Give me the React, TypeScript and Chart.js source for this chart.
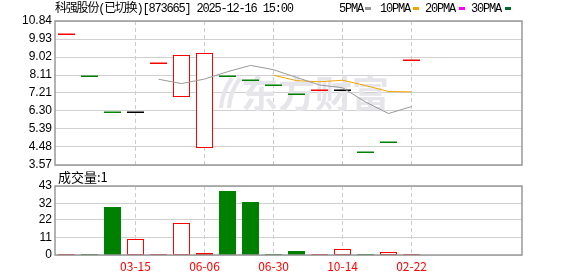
import React, { useEffect, useRef } from 'react';
import { Chart, registerables } from 'chart.js';

Chart.register(...registerables);

const TITLE = '科强股份(已切换)[873665] 2025-12-16 15:00';
const VOLUME_LABEL = '成交量:1';
const WATERMARK = '东方财富';

const legendNames = ['5PMA', '10PMA', '20PMA', '30PMA'];
const legendColors = ['#999999', '#f4a300', '#ff00ff', '#006b2a'];

const openPrices = [10.2, 8.06, 6.25, 6.25, 8.72, 7.07, 4.47, 8.06, 7.87, 7.61, 7.16, 7.36, 7.36, 4.24, 4.76, 8.88];
const closePrices = [10.2, 8.06, 6.25, 6.25, 8.72, 9.12, 9.23, 8.06, 7.87, 7.61, 7.16, 7.36, 7.36, 4.24, 4.74, 8.88];
const volumes = [0.2, 0.4, 30, 10, 0.3, 20, 1.5, 40, 33, 0.4, 2.5, 0.3, 3.7, 0.3, 1.7, 0.3];
const ma5 = [null, null, null, null, 7.9, 7.68, 7.91, 8.28, 8.6, 8.38, 7.99, 7.61, 7.47, 6.75, 6.17, 6.52];
const ma10 = [null, null, null, null, null, null, null, null, null, 8.1, 7.83, 7.77, 7.85, 7.58, 7.28, 7.26];

const xTickIndex = [3, 6, 9, 12, 15];
const xTickLabels = ['03-15', '06-06', '06-30', '10-14', '02-22'];
const priceTicks = [3.57, 4.48, 5.39, 6.3, 7.21, 8.11, 9.02, 9.93, 10.84];
const priceTickLabels = ['3.57', '4.48', '5.39', '6.30', '7.21', '8.11', '9.02', '9.93', '10.84'];
const volumeTicks = [0, 11, 22, 32, 43];
const volumeTickLabels = ['0', '11', '22', '32', '43'];

const RED = '#ff0000';
const GREEN = '#008000';
const GRID = '#d0d0d0';
const BORDER = '#999999';

function candleColor(i: number): string {
  const o = openPrices[i];
  const c = closePrices[i];
  if (c > o) return RED;
  if (c < o) return GREEN;
  if (i === 0) return RED;
  const p = closePrices[i - 1];
  if (c > p) return RED;
  if (c < p) return GREEN;
  return '#000000';
}

function volumeUp(i: number): boolean {
  if (i === 0) return true;
  return closePrices[i] >= closePrices[i - 1];
}

function drawBorder(chart: any) {
  const { ctx, chartArea: a } = chart;
  ctx.save();
  ctx.strokeStyle = BORDER;
  ctx.lineWidth = 1.5;
  ctx.strokeRect(a.left, a.top, a.right - a.left, a.bottom - a.top);
  ctx.restore();
}

const pricePlugin = {
  id: 'pricePlugin',
  beforeDatasetsDraw(chart: any) {
    const { ctx, scales } = chart;
    const x = scales.x;
    const y = scales.y;
    ctx.save();
    // watermark
    ctx.fillStyle = '#e5e5ea';
    ctx.font = 'bold 37px "Noto Sans CJK SC"';
    ctx.textBaseline = 'middle';
    ctx.textAlign = 'left';
    ctx.fillText(WATERMARK, 241, 94);
    ctx.strokeStyle = '#e5e5ea';
    ctx.lineWidth = 4;
    ctx.beginPath();
    ctx.moveTo(232, 78);
    ctx.quadraticCurveTo(222, 92, 221, 108);
    ctx.moveTo(240, 78);
    ctx.quadraticCurveTo(230, 92, 229, 108);
    ctx.stroke();
    // candles
    for (let i = 0; i < openPrices.length; i++) {
      const xc = x.getPixelForValue(i);
      const left = Math.round(xc - 8.5);
      const yo = y.getPixelForValue(openPrices[i]);
      const yc = y.getPixelForValue(closePrices[i]);
      const top = Math.min(yo, yc);
      const bot = Math.max(yo, yc);
      const col = candleColor(i);
      if (bot - top < 1.5) {
        const mid = Math.round((top + bot) / 2);
        ctx.fillStyle = col;
        ctx.fillRect(left, mid - 0.5, 17, 1.5);
      } else if (closePrices[i] > openPrices[i]) {
        const t = Math.round(top);
        const b = Math.round(bot);
        ctx.fillStyle = '#ffffff';
        ctx.fillRect(left, t, 17, b - t);
        ctx.strokeStyle = col;
        ctx.lineWidth = 1;
        ctx.strokeRect(left + 0.5, t + 0.5, 16, b - t);
      } else {
        const t = Math.round(top);
        const b = Math.round(bot);
        ctx.fillStyle = col;
        ctx.fillRect(left, t, 17, b - t);
      }
    }
    ctx.restore();
  },
  afterDraw(chart: any) {
    drawBorder(chart);
    const { ctx } = chart;
    ctx.save();
    ctx.fillStyle = '#000000';
    ctx.textBaseline = 'middle';
    ctx.textAlign = 'left';
    ctx.font = '12px "Liberation Mono", "Noto Sans CJK SC"';
    (ctx as any).letterSpacing = '-1.2px';
    ctx.fillText(TITLE, 55, 9);
    const textX = [339, 380, 425, 471];
    const swX = [365, 413, 459, 505];
    for (let k = 0; k < legendNames.length; k++) {
      ctx.fillStyle = '#000000';
      ctx.fillText(legendNames[k], textX[k], 9);
      ctx.fillStyle = legendColors[k];
      ctx.fillRect(swX[k], 7, 6, 3);
    }
    (ctx as any).letterSpacing = '0px';
    ctx.fillStyle = '#000000';
    ctx.font = '13px "Noto Sans CJK SC"';
    ctx.fillText(VOLUME_LABEL, 58, 177);
    ctx.restore();
  },
};

const volumePlugin = {
  id: 'volumePlugin',
  beforeDatasetsDraw(chart: any) {
    const { ctx, scales } = chart;
    const x = scales.x;
    const y = scales.y;
    ctx.save();
    const yb = Math.round(y.getPixelForValue(0));
    for (let i = 0; i < volumes.length; i++) {
      const xc = x.getPixelForValue(i);
      const left = Math.round(xc - 8.5);
      const yt = Math.min(Math.round(y.getPixelForValue(volumes[i])), yb - 1);
      if (volumeUp(i)) {
        ctx.fillStyle = '#ffffff';
        ctx.fillRect(left, yt, 17, yb - yt);
        ctx.strokeStyle = RED;
        ctx.lineWidth = 1;
        ctx.strokeRect(left + 0.5, yt + 0.5, 16, Math.max(0, yb - yt - 1));
      } else {
        ctx.fillStyle = GREEN;
        ctx.fillRect(left, yt, 17, yb - yt);
      }
    }
    ctx.restore();
  },
  afterDraw(chart: any) {
    drawBorder(chart);
  },
};

function xScaleBase(showLabels: boolean) {
  return {
    type: 'linear' as const,
    min: -0.5,
    max: 19.8,
    afterBuildTicks: (s: any) => {
      s.ticks = xTickIndex.map((v) => ({ value: v }));
    },
    ticks: {
      display: showLabels,
      autoSkip: false,
      maxRotation: 0,
      padding: 4,
      color: RED,
      font: { family: '"Noto Sans CJK SC"', size: 12 },
      callback: (v: number) => {
        const k = xTickIndex.indexOf(v);
        return k >= 0 ? xTickLabels[k] : '';
      },
    },
    grid: { color: '#cccccc', lineWidth: 1, drawTicks: false },
    border: { display: false, dash: [4, 3] },
    afterFit: (s: any) => {
      s.height = showLabels ? 21 : 0;
    },
  };
}

function yScale(min: number, max: number, ticks: number[], labels: string[]) {
  return {
    min,
    max,
    afterBuildTicks: (s: any) => {
      s.ticks = ticks.map((v) => ({ value: v }));
    },
    ticks: {
      autoSkip: false,
      padding: 3,
      color: '#000000',
      font: { family: '"Liberation Sans"', size: 12 },
      callback: (v: number) => {
        const k = ticks.indexOf(v);
        return k >= 0 ? labels[k] : '';
      },
    },
    grid: { color: GRID, lineWidth: 1, drawTicks: false },
    border: { display: false },
    afterFit: (s: any) => {
      s.width = 55;
    },
  };
}

export default function App() {
  const priceRef = useRef<HTMLCanvasElement>(null);
  const volRef = useRef<HTMLCanvasElement>(null);

  useEffect(() => {
    document.body.style.margin = '0';
    const toPts = (arr: (number | null)[]) =>
      arr.map((v, i) => (v == null ? null : { x: i, y: v })).filter((p) => p !== null) as { x: number; y: number }[];

    const priceChart = new Chart(priceRef.current as HTMLCanvasElement, {
      type: 'line',
      data: {
        datasets: [
          {
            label: '5PMA',
            data: toPts(ma5),
            borderColor: legendColors[0],
            borderWidth: 1,
            pointRadius: 0,
            tension: 0,
          },
          {
            label: '10PMA',
            data: toPts(ma10),
            borderColor: legendColors[1],
            borderWidth: 1,
            pointRadius: 0,
            tension: 0,
          },
        ],
      },
      options: {
        animation: false,
        responsive: false,
        devicePixelRatio: 1,
        layout: { padding: { left: 0, right: 56, top: 21, bottom: 20 } },
        plugins: { legend: { display: false }, tooltip: { enabled: false }, title: { display: false } },
        scales: {
          x: xScaleBase(false) as any,
          y: yScale(3.57, 10.84, priceTicks, priceTickLabels) as any,
        },
      },
      plugins: [pricePlugin],
    });

    const volChart = new Chart(volRef.current as HTMLCanvasElement, {
      type: 'line',
      data: { datasets: [] },
      options: {
        animation: false,
        responsive: false,
        devicePixelRatio: 1,
        layout: { padding: { left: 0, right: 56, top: 16, bottom: 0 } },
        plugins: { legend: { display: false }, tooltip: { enabled: false }, title: { display: false } },
        scales: {
          x: xScaleBase(true) as any,
          y: yScale(0, 43, volumeTicks, volumeTickLabels) as any,
        },
      },
      plugins: [volumePlugin],
    });

    return () => {
      priceChart.destroy();
      volChart.destroy();
    };
  }, []);

  return (
    <div style={{ position: 'fixed', left: 0, top: 0, width: 578, height: 276, background: '#ffffff', overflow: 'hidden' }}>
      <canvas ref={priceRef} width={578} height={185} style={{ position: 'absolute', left: 0, top: 0, width: 578, height: 185 }} />
      <canvas ref={volRef} width={578} height={106} style={{ position: 'absolute', left: 0, top: 170, width: 578, height: 106 }} />
    </div>
  );
}
